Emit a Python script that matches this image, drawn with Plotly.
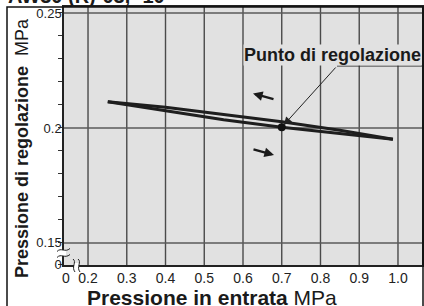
import plotly.graph_objects as go

# ---- data ----
up_x = [0.987, 0.85, 0.70, 0.55, 0.40, 0.251]      # decreasing inlet pressure (upper branch)
up_y = [0.1951, 0.1990, 0.2027, 0.2060, 0.2090, 0.2114]
lo_x = [0.251, 0.40, 0.55, 0.70, 0.85, 0.987]      # increasing inlet pressure (lower branch)
lo_y = [0.2114, 0.2075, 0.2036, 0.2003, 0.1975, 0.1951]
set_x = [0.70]
set_y = [0.2003]

x_tickvals = [0.1432, 0.2, 0.3, 0.4, 0.5, 0.6, 0.7, 0.8, 0.9, 1.0]
x_ticktext = ["0", "0.2", "0.3", "0.4", "0.5", "0.6", "0.7", "0.8", "0.9", "1.0"]
y_tickvals = [0.1405, 0.15, 0.2, 0.25]
y_ticktext = ["0", "0.15", "0.2", "0.25"]
x_grid = [0.2, 0.3, 0.4, 0.5, 0.6, 0.7, 0.8, 0.9, 1.0]
y_grid = [0.15, 0.2, 0.25]

X0, X1 = 0.138, 1.062
Y0, Y1 = 0.1404, 0.2526
L, T, W, H = 64, 7, 358, 258

def px(x):
    return (x - L) / W

def py(y):
    return 1 - (y - T) / H

def dx(p):
    return X0 + (p - L) / W * (X1 - X0)

def dy(p):
    return Y1 - (p - T) / H * (Y1 - Y0)

LINE = "#1e1e1e"
GRID = "#4a4a4a"

fig = go.Figure()
fig.add_trace(go.Scatter(x=up_x, y=up_y, mode="lines",
                         line=dict(color=LINE, width=3), hoverinfo="skip"))
fig.add_trace(go.Scatter(x=lo_x, y=lo_y, mode="lines",
                         line=dict(color=LINE, width=3), hoverinfo="skip"))
fig.add_trace(go.Scatter(x=set_x, y=set_y, mode="markers",
                         marker=dict(color="#111", size=8), hoverinfo="skip"))

shapes = []
for g in x_grid:
    shapes.append(dict(type="line", xref="x", yref="paper", x0=g, x1=g, y0=0, y1=1,
                       line=dict(color=GRID, width=1.4), layer="below"))
for g in y_grid:
    shapes.append(dict(type="line", xref="paper", yref="y", x0=0, x1=1, y0=g, y1=g,
                       line=dict(color="#5a5a5a", width=1.4), layer="below"))

# outer frame
shapes.append(dict(type="rect", xref="paper", yref="paper", x0=px(7), x1=px(423),
                   y0=py(330), y1=py(7), line=dict(color="#111", width=1.5),
                   fillcolor="rgba(0,0,0,0)", layer="above"))

# underline of the callout
shapes.append(dict(type="line", xref="x", yref="y", x0=dx(337), x1=dx(423),
                   y0=dy(66), y1=dy(66), line=dict(color="#222", width=1)))

# axis break marks (y axis)
shapes.append(dict(type="rect", xref="paper", yref="paper", x0=px(62), x1=px(66),
                   y0=py(256), y1=py(250), fillcolor="white", line=dict(width=0), layer="above"))
for yc in (250, 256):
    path = (f"M {px(57)},{py(yc+1.5)} C {px(61)},{py(yc-3)} {px(65)},{py(yc+3)} {px(70)},{py(yc-1.5)}")
    shapes.append(dict(type="path", xref="paper", yref="paper", path=path,
                       line=dict(color="#222", width=1), layer="above"))
# axis break marks (x axis)
shapes.append(dict(type="rect", xref="paper", yref="paper", x0=px(74), x1=px(79),
                   y0=py(268), y1=py(263), fillcolor="white", line=dict(width=0), layer="above"))
for xc in (74, 79):
    path = (f"M {px(xc-1)},{py(259)} C {px(xc+3)},{py(262)} {px(xc-3)},{py(267)} {px(xc+1)},{py(272)}")
    shapes.append(dict(type="path", xref="paper", yref="paper", path=path,
                       line=dict(color="#222", width=1), layer="above"))

annotations = [
    # clipped title at top
    dict(text="<b>AW30 (R)-03, -10</b>", xref="paper", yref="paper", x=px(6), y=py(-4),
         xanchor="left", yanchor="middle", showarrow=False,
         font=dict(size=20, color="#1a1a1a", family="Liberation Sans")),
    # callout text
    dict(text="<b>Punto di regolazione</b>", xref="x", yref="y", x=dx(422), y=dy(55),
         xanchor="right", yanchor="middle", showarrow=False, bgcolor="#e1e1e1", borderpad=0,
         font=dict(size=18, color="#1a1a1a", family="Liberation Sans")),
    # callout leader arrow
    dict(text="", xref="x", yref="y", x=set_x[0], y=set_y[0],
         axref="x", ayref="y", ax=dx(337), ay=dy(66), showarrow=True,
         arrowhead=2, arrowsize=1.6, arrowwidth=1, arrowcolor="#222", standoff=3),
    # direction arrows
    dict(text="", xref="x", yref="y", x=dx(253), y=dy(93.5), axref="x", ayref="y",
         ax=dx(275), ay=dy(99.5), showarrow=True, arrowhead=2, arrowsize=0.8,
         arrowwidth=2.4, arrowcolor="#1a1a1a"),
    dict(text="", xref="x", yref="y", x=dx(274), y=dy(155), axref="x", ayref="y",
         ax=dx(252), ay=dy(149), showarrow=True, arrowhead=2, arrowsize=0.8,
         arrowwidth=2.4, arrowcolor="#1a1a1a"),
    # axis titles
    dict(text="<b>Pressione in entrata</b> MPa", xref="paper", yref="paper",
         x=px(212), y=py(297), xanchor="center", yanchor="middle", showarrow=False,
         font=dict(size=21, color="#1a1a1a", family="Liberation Sans")),
    dict(text="<b>Pressione di regolazione</b>  MPa", xref="paper", yref="paper",
         x=px(22), y=py(148), xanchor="center", yanchor="middle", showarrow=False,
         textangle=-90, font=dict(size=18, color="#1a1a1a", family="Liberation Sans")),
]

fig.update_layout(
    width=424, height=306,
    margin=dict(l=L, r=424 - L - W, t=T, b=306 - T - H, autoexpand=False),
    paper_bgcolor="white", plot_bgcolor="#e1e1e1",
    showlegend=False,
    font=dict(family="Liberation Sans", color="#222"),
    shapes=shapes, annotations=annotations,
    xaxis=dict(range=[X0, X1], tickmode="array", tickvals=x_tickvals, ticktext=x_ticktext,
               showgrid=False, zeroline=False, ticks="", showline=True, linecolor="#222",
               linewidth=1.5, mirror=True, tickfont=dict(size=14, color="#222"),
               ticklabelstandoff=-1, automargin=False),
    yaxis=dict(range=[Y0, Y1], tickmode="array", tickvals=y_tickvals, ticktext=y_ticktext,
               showgrid=False, zeroline=False, ticks="outside", ticklen=4, tickcolor="#333",
               showline=True, linecolor="#222", linewidth=1.5, mirror=True,
               tickfont=dict(size=13, color="#222"), ticklabelstandoff=-6, automargin=False,
               minor=dict(dtick=0.01, tick0=0, ticks="outside", ticklen=4, tickcolor="#333",
                          showgrid=False)),
)

fig.write_html("out.html", config={"displayModeBar": False},
               post_script="document.body.style.margin='0';document.body.style.overflow='hidden';")
